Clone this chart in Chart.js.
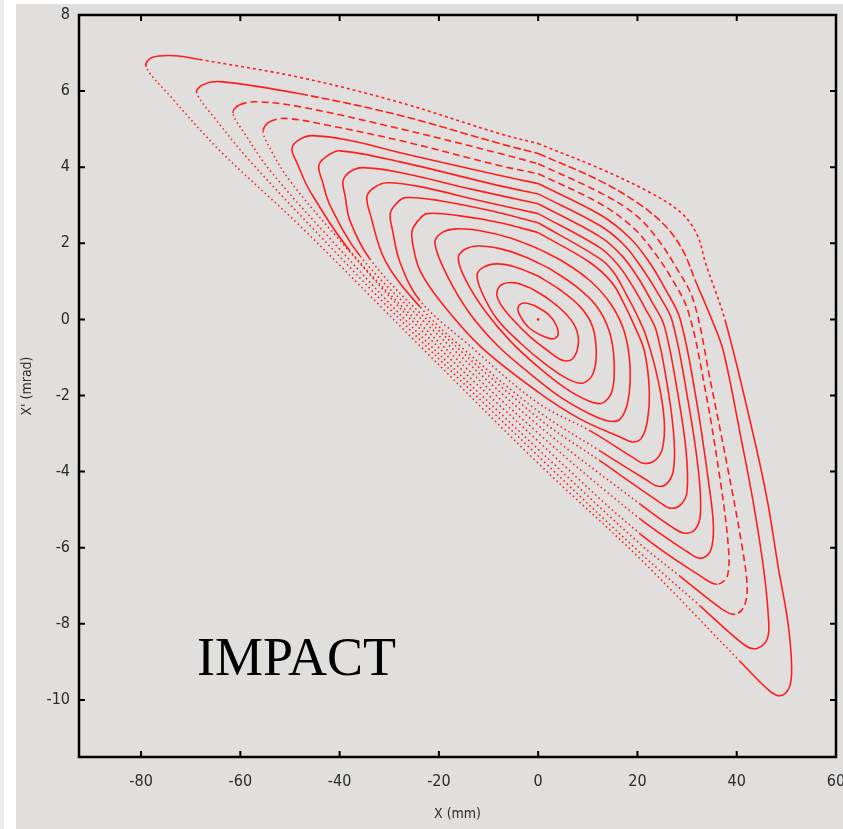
<!DOCTYPE html>
<html>
<head>
<meta charset="utf-8">
<title>Phase space X - X'</title>
<script src="https://cdn.jsdelivr.net/npm/chart.js@4.4.1/dist/chart.umd.min.js"></script>
<style>
  html, body { margin: 0; padding: 0; background: #ffffff; }
  #edge  { position: absolute; left: 0; top: 0; width: 4px; height: 829px; background: #ececec; }
  #panel { position: absolute; left: 16px; top: 4px; width: 827px; height: 825px; background: #e0dfde; }
</style>
</head>
<body>
<div id="edge"></div>
<div id="panel"><canvas id="phase" width="827" height="825"></canvas></div>
<script>
// Axis ticks and labels
const xTickValues = [-80, -60, -40, -20, 0, 20, 40, 60];
const yTickValues = [-10, -8, -6, -4, -2, 0, 2, 4, 6, 8];
const xRange = [-92.5, 60];
const yRange = [-11.5, 8];
const xTitle = "X (mm)";
const yTitle = "X' (mrad)";
const codeLabel = "IMPACT";

// Particle orbits in X (mm) / X' (mrad), outermost first.
// Each starts at the upper-left tip and runs clockwise.
const orbit00 = [[-79.0,6.64],[-77.8,6.88],[-73.2,6.93],[-68.2,6.83],[-48.0,6.36],[-27.8,5.70],[-7.7,4.88],[0,4.62],[12.5,3.96],[22.6,3.33],[29.0,2.78],[32.1,2.20],[33.7,1.49],[37.7,-0.04],[43.3,-3.01],[46.2,-4.78],[48.4,-6.54],[50.2,-7.86],[51.0,-8.91],[50.8,-9.59],[49.2,-9.88],[46.8,-9.78],[40.7,-8.99],[20.6,-6.30],[0,-3.78],[-23.8,-0.70],[-48.0,2.46],[-64.1,4.43],[-74.2,5.88]];
const orbit01 = [[-68.8,5.96],[-67.5,6.17],[-64.1,6.25],[-48.0,5.93],[-27.8,5.36],[-7.7,4.62],[0,4.36],[12.5,3.64],[20.6,3.01],[25.8,2.43],[29.2,1.80],[31.7,1.01],[35.1,-0.04],[37.3,-0.83],[40.7,-3.01],[43.3,-4.78],[45.4,-6.54],[46.4,-7.86],[46.2,-8.38],[44.2,-8.64],[41.7,-8.57],[32.7,-7.54],[20.6,-6.14],[0,-3.59],[-23.8,-0.54],[-44.0,2.20],[-58.1,4.17],[-65.1,5.28]];
const orbit02 = [[-61.5,5.43],[-60.1,5.64],[-56.7,5.72],[-48.0,5.59],[-27.8,5.01],[-7.7,4.36],[0,4.09],[12.5,3.33],[19.6,2.75],[24.0,2.12],[27.6,1.41],[31.3,0.49],[34.7,-1.62],[38.3,-3.99],[40.9,-5.83],[42.1,-7.01],[41.5,-7.54],[39.7,-7.75],[37.1,-7.62],[28.6,-6.75],[20.6,-5.91],[0,-3.41],[-23.8,-0.41],[-41.9,2.12],[-54.0,3.91],[-59.1,4.88]];
const orbit03 = [[-55.4,4.96],[-54.0,5.20],[-50.6,5.28],[-41.9,5.09],[-27.8,4.70],[-7.7,4.04],[0,3.83],[12.5,3.04],[19.0,2.43],[23.0,1.83],[26.6,1.14],[30.2,0.22],[33.7,-1.88],[36.7,-4.25],[38.3,-5.96],[38.1,-6.75],[36.1,-6.96],[33.7,-6.83],[20.6,-5.64],[0,-3.20],[-23.8,-0.25],[-39.9,2.07],[-50.0,3.64],[-54.0,4.49]];
const orbit04 = [[-49.6,4.49],[-48.2,4.72],[-45.4,4.83],[-37.9,4.70],[-27.8,4.38],[-7.7,3.78],[0,3.57],[12.5,2.75],[18.5,2.14],[22.2,1.54],[25.6,0.80],[28.6,0.01],[31.9,-2.14],[34.3,-4.25],[35.3,-5.43],[34.7,-6.09],[32.7,-6.28],[30.2,-6.12],[20.6,-5.25],[0,-2.99],[-23.8,-0.12],[-37.9,1.80],[-46.0,3.38],[-48.6,4.12]];
const orbit05 = [[-44.2,4.04],[-42.7,4.28],[-39.9,4.43],[-27.8,4.14],[-7.7,3.51],[0,3.30],[12.5,2.46],[17.5,1.93],[21.0,1.33],[24.2,0.67],[27.0,-0.04],[30.2,-2.14],[32.3,-3.99],[32.7,-5.09],[31.7,-5.51],[29.6,-5.62],[27.0,-5.46],[20.6,-4.86],[0,-2.78],[-23.8,0.04],[-35.9,1.67],[-41.9,2.99],[-43.5,3.64]];
const orbit06 = [[-39.3,3.64],[-37.9,3.88],[-35.3,3.99],[-27.8,3.86],[-13.7,3.43],[0,3.04],[12.5,2.17],[16.9,1.67],[20.0,1.12],[22.8,0.49],[25.4,-0.17],[28.2,-2.01],[29.8,-3.46],[30.0,-4.51],[28.8,-4.86],[26.6,-4.96],[24.2,-4.78],[12.5,-3.72],[0,-2.59],[-23.8,0.17],[-33.9,1.59],[-37.9,2.59],[-38.9,3.25]];
const orbit07 = [[-34.5,3.22],[-33.1,3.46],[-30.4,3.59],[-23.8,3.49],[-11.7,3.12],[0,2.78],[12.5,1.88],[16.1,1.43],[19.0,0.88],[21.6,0.28],[23.8,-0.30],[26.2,-1.88],[27.4,-3.20],[27.2,-3.99],[25.8,-4.33],[24.0,-4.38],[21.6,-4.20],[12.5,-3.46],[0,-2.41],[-15.7,-0.70],[-23.8,0.33],[-30.8,1.54],[-33.9,2.80]];
const orbit08 = [[-29.8,2.78],[-28.6,3.04],[-26.8,3.20],[-19.8,3.12],[-9.7,2.86],[0,2.54],[12.5,1.59],[15.3,1.22],[17.7,0.67],[20.0,0.09],[21.8,-0.46],[24.2,-1.62],[25.4,-2.67],[25.0,-3.41],[23.4,-3.72],[21.2,-3.78],[19.0,-3.62],[10.5,-2.93],[0,-2.20],[-13.7,-0.70],[-23.8,0.49],[-27.8,1.49],[-29.4,2.38]];
const orbit09 = [[-25.4,2.33],[-24.2,2.59],[-22.4,2.78],[-15.7,2.72],[-7.7,2.54],[0,2.28],[10.5,1.49],[14.9,0.96],[17.3,0.41],[19.4,-0.17],[21.4,-0.83],[22.4,-1.88],[22.0,-2.67],[20.8,-3.12],[19.0,-3.22],[16.5,-3.09],[8.5,-2.62],[0,-1.91],[-11.7,-0.70],[-19.8,0.49],[-23.8,1.28],[-25.2,1.93]];
const orbit10 = [[-20.8,1.99],[-19.4,2.28],[-16.5,2.38],[-11.7,2.33],[-5.6,2.14],[0,1.86],[5.4,1.49],[10.5,1.01],[14.5,0.43],[17.3,-0.30],[18.5,-1.22],[18.1,-2.14],[16.5,-2.62],[14.1,-2.67],[10.5,-2.49],[4.8,-2.07],[-1.6,-1.43],[-8.1,-0.70],[-13.7,0.14],[-18.1,1.09]];
const orbit11 = [[-16.1,1.59],[-14.9,1.83],[-12.1,1.93],[-7.7,1.86],[-2.6,1.64],[2.4,1.33],[7.5,0.88],[11.7,0.36],[14.3,-0.30],[15.3,-1.09],[14.9,-1.88],[12.9,-2.20],[10.1,-2.14],[5.4,-1.80],[0,-1.25],[-5.6,-0.57],[-10.7,0.22],[-14.5,1.01]];
const orbit12 = [[-12.3,1.17],[-10.9,1.38],[-8.3,1.46],[-4.6,1.38],[0,1.14],[4.4,0.78],[8.5,0.33],[10.9,-0.17],[11.7,-0.83],[11.1,-1.41],[9.1,-1.67],[6.0,-1.57],[1.4,-1.17],[-3.6,-0.62],[-8.3,0.01],[-11.3,0.70]];
const orbit13 = [[-8.3,0.72],[-7.1,0.93],[-4.6,0.96],[-1.6,0.83],[2.0,0.54],[5.4,0.17],[7.5,-0.20],[8.1,-0.64],[6.9,-1.04],[4.8,-1.07],[2.0,-0.83],[-1.6,-0.46],[-5.2,0.01],[-7.7,0.43]];
const orbit14 = [[-4.0,0.33],[-2.8,0.43],[-0.6,0.36],[2.0,0.14],[3.6,-0.14],[4.0,-0.41],[3.0,-0.51],[0.8,-0.43],[-2.0,-0.20],[-3.8,0.14]];
const centre = [[0, 0]];

const orbits = [orbit00, orbit01, orbit02, orbit03, orbit04, orbit05, orbit06, orbit07,
                orbit08, orbit09, orbit10, orbit11, orbit12, orbit13, orbit14];

const RED = '#ff1e1e';
const tickFont = { family: "'Liberation Sans Narrow', 'DejaVu Sans Condensed', 'Liberation Sans', sans-serif", size: 16 };
const titleFont = { family: "'Liberation Sans Narrow', 'DejaVu Sans Condensed', 'Liberation Sans', sans-serif", size: 14 };

// index of the lowest point (bottom tip) of an orbit
function bottomIndex(pts) {
    let j = 0;
    pts.forEach((p, i) => { if (p[1] < pts[j][1]) j = i; });
    return j;
}

// top-edge point nearest X = 0: the loop is closed there, on a flat stretch,
// so both tips are drawn as smooth turns of the spline
function seamIndex(pts, j) {
    let s = 1;
    for (let i = 1; i < j; i++) if (Math.abs(pts[i][0]) < Math.abs(pts[s][0])) s = i;
    return s;
}

// sparse particles show up as dotted / dashed stretches of the orbit.
// i: segment start (original index), j: bottom tip, n: point count
function dashFor(k, i, j, n) {
    if (k <= 8 && i > j + 1) {
        // lower branch: dense again close to the upper-left tip on the inner orbits
        if (k >= 4 && i >= n - 3) return [];
        return [1.5, 3];
    }
    if (k === 0 && i >= 3 && i <= 12) return [3, 3];
    if (k === 1 && i >= 3 && i <= 10) return [8, 3];
    if ((k === 2 || k === 3) && i >= 1 && i < j) return [7, 4];
    return [];
}

const datasets = orbits.map((pts, k) => {
    const n = pts.length;
    const j = bottomIndex(pts);
    const s = seamIndex(pts, j);
    const loop = pts.slice(s).concat(pts.slice(0, s + 1));
    return {
        data: loop.map(([x, y]) => ({ x, y })),
        showLine: true,
        borderColor: RED,
        borderWidth: 1.6,
        pointRadius: 0,
        tension: 0.35,
        fill: false,
        segment: { borderDash: ctx => dashFor(k, (ctx.p0DataIndex + s) % n, j, n) }
    };
});
datasets.push({
    data: centre.map(([x, y]) => ({ x, y })),
    showLine: false,
    pointRadius: 1.3,
    backgroundColor: RED,
    borderWidth: 0
});

// box, inward ticks on all four sides and the code name
const framePlugin = {
    id: 'frame',
    afterDatasetsDraw(chart) {
        const { ctx, chartArea: a, scales: { x, y } } = chart;
        const t = 6;
        ctx.save();
        ctx.strokeStyle = '#000';
        ctx.lineWidth = 2;
        ctx.beginPath();
        xTickValues.forEach(v => {
            const px = x.getPixelForValue(v);
            ctx.moveTo(px, a.bottom); ctx.lineTo(px, a.bottom - t);
            ctx.moveTo(px, a.top);    ctx.lineTo(px, a.top + t);
        });
        yTickValues.forEach(v => {
            const py = y.getPixelForValue(v);
            ctx.moveTo(a.left, py);  ctx.lineTo(a.left + t, py);
            ctx.moveTo(a.right, py); ctx.lineTo(a.right - t, py);
        });
        ctx.stroke();
        ctx.lineWidth = 2.5;
        ctx.strokeRect(a.left, a.top, a.right - a.left, a.bottom - a.top);

        ctx.fillStyle = '#000';
        ctx.font = "54px 'Liberation Serif', 'Times New Roman', serif";
        ctx.textBaseline = 'alphabetic';
        ctx.fillText(codeLabel, a.left + 118, a.bottom - 82);
        ctx.restore();
    }
};

new Chart(document.getElementById('phase').getContext('2d'), {
    type: 'scatter',
    data: { datasets },
    options: {
        responsive: false,
        animation: false,
        layout: { padding: { left: 0, top: 11, right: 7, bottom: 0 } },
        plugins: { legend: { display: false }, tooltip: { enabled: false } },
        scales: {
            x: {
                type: 'linear',
                min: xRange[0],
                max: xRange[1],
                afterBuildTicks: s => { s.ticks = xTickValues.map(v => ({ value: v })); },
                // fixed band under the plot; end labels may overhang the box
                afterFit: s => { s.height = 72; s.paddingLeft = 0; s.paddingRight = 0; },
                grid: { display: false, drawTicks: false },
                border: { display: false },
                ticks: { padding: 15, color: '#2a2a2a', font: tickFont, maxRotation: 0 },
                title: { display: true, text: xTitle, color: '#2a2a2a', font: titleFont, padding: { top: 0, bottom: 6 } }
            },
            y: {
                type: 'linear',
                min: yRange[0],
                max: yRange[1],
                afterBuildTicks: s => { s.ticks = yTickValues.map(v => ({ value: v })); },
                afterFit: s => { s.width = 63; s.paddingTop = 0; s.paddingBottom = 0; },
                grid: { display: false, drawTicks: false },
                border: { display: false },
                ticks: { padding: 9, color: '#2a2a2a', font: tickFont },
                title: { display: true, text: yTitle, color: '#2a2a2a', font: titleFont, padding: { top: 3, bottom: 0 } }
            }
        }
    },
    plugins: [framePlugin]
});
</script>
</body>
</html>
